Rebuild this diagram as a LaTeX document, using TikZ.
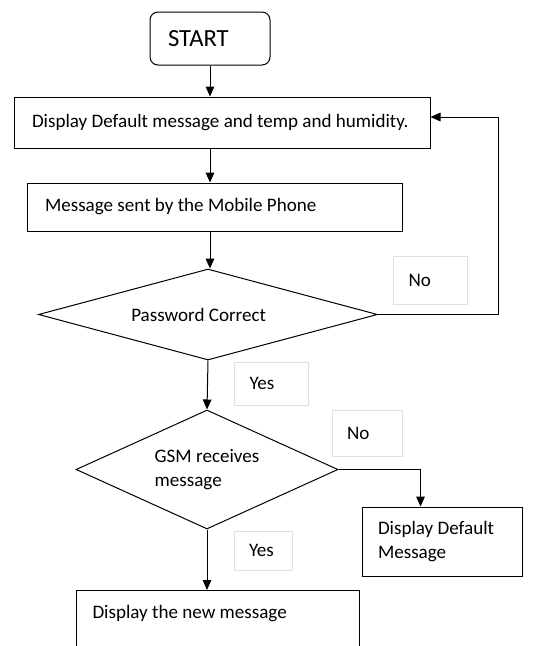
\documentclass[tikz,border=0pt]{standalone}
\usepackage{fontspec}
\setmainfont{Carlito}
\usetikzlibrary{shapes.geometric,arrows.meta}
\hyphenpenalty=10000
\begin{document}
\begin{tikzpicture}[x=0.75pt,y=-0.75pt,line width=0.75pt,
  font=\fontsize{14.3}{18}\selectfont,
  box/.style={draw,rectangle,inner ysep=0pt,align=flush left},
  dec/.style={draw,diamond,inner sep=0pt},
  lbl/.style={draw=black!12,line width=0.6pt,rectangle,inner ysep=0pt,align=flush left},
  arr/.style={-{Triangle[length=7.5pt,width=6.5pt]}}]
\useasboundingbox (0,0) rectangle (541,646);

\node[box,rounded corners=6pt,minimum height=39.75pt,text width=63pt,inner xsep=13.5pt,font=\fontsize{18.5}{22}\selectfont] (start) at (210,38.5) {START};

\node[box,minimum height=38.25pt,text width=285pt,inner xsep=13.5pt] (b1) at (222,122.5) {Display Default message and temp and humidity.};

\node[box,minimum height=36pt,text width=254.25pt,inner xsep=13.5pt] (b2) at (214.5,207) {Message sent by the Mobile Phone};

\node[dec,minimum width=254.25pt,minimum height=68.25pt,aspect=3.7] (d1) at (208,314.5) {Password Correct\hspace*{14pt}};

\node[dec,minimum width=196.5pt,minimum height=89.25pt,aspect=2.2,align=flush left] (d2) at (207,469.5) {GSM receives\\message};

\node[box,minimum height=51.75pt,text width=96pt,inner xsep=12pt] (b3) at (442,541.5) {Display Default\\Message};

\node[box,anchor=north west,text width=188.25pt,inner xsep=12pt,inner ysep=11pt,text depth=45pt] (b4) at (76,590) {Display the new message};

\node[lbl,minimum height=36pt,text width=33pt,inner xsep=11.25pt] (no1) at (430.5,280) {No};
\node[lbl,minimum height=32.25pt,text width=33pt,inner xsep=11.25pt] (yes1) at (271.5,383.5) {Yes};
\node[lbl,minimum height=34.5pt,text width=30pt,inner xsep=11.25pt] (no2) at (367,433) {No};
\node[lbl,minimum height=29.25pt,text width=21pt,inner xsep=11.25pt] (yes2) at (263,550.5) {Yes};

\coordinate (loop) at (498,117);

\draw[arr] (start.south) -- (start.south |- b1.north);
\draw[arr] (start.south |- b1.south) -- (start.south |- b2.north);
\draw[arr] (start.south |- b2.south) -- (start.south |- d1.north);
\draw[arr] (d1.east) -| (loop) -- (b1.east |- loop);
\draw[arr] (d1.south) -- (d2.north);
\draw[arr] (d2.east) -| ([xshift=44.25pt]b3.north west);
\draw[arr] (d2.south) -- (d2.south |- b4.north);
\end{tikzpicture}
\end{document}
